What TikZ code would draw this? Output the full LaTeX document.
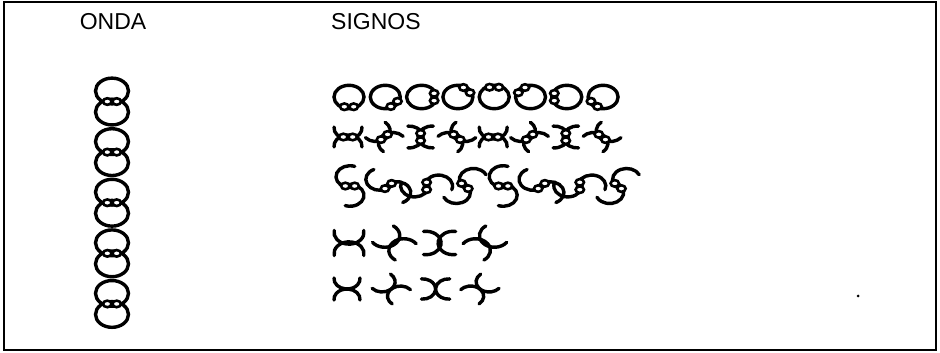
\documentclass[tikz,border=0pt]{standalone}
\usepackage{fontspec}
\setmainfont{Liberation Sans}
\tikzset{ink/.style = {line width=3.4pt, line cap=round}}
\tikzset{lbl/.style = {font=\fontsize{23}{26}\selectfont, inner sep=0}}
\tikzset{sq/.style = {yscale=0.78}}
\newcommand{\knot}{\filldraw[fill=white, line width=2.6pt] (-4.7,0) circle (4.2) (4.7,0) circle (4.2);}

\begin{document}
\begin{tikzpicture}[x=1pt, y=1pt]
      \useasboundingbox (0,0) rectangle (940,353);
      \draw[line width=1.5pt] (4,3) rectangle (936,351);
      \draw[line width=2.5pt] (4,351) -- (936,351);
      \node[lbl] (onda) at (113,331) {ONDA};
      \node[lbl, anchor=west] (signos) at (331,331) {SIGNOS};

      % onda: five linked pairs of rings
      \foreach \k in {0,...,4} {
        \begin{scope}[shift={(112,262-50.6*\k)}, sq]
          \draw[ink] (0,0) circle (16.5) (0,-27) circle (16.5);
          \begin{scope}[shift={(0,-13.5)}] \knot \end{scope}
        \end{scope}
      }

      % signos, row 1: rings
      \foreach \i in {0,...,7} {
        \begin{scope}[shift={(349+36.3*\i,256)}, sq, rotate=45*\i]
          \draw[ink] (0,0) circle (15);
          \begin{scope}[shift={(0,-12.5)}] \knot \end{scope}
        \end{scope}
      }

      % row 2: junctions with knot
      \foreach \i in {0,...,7} {
        \begin{scope}[shift={(348+36.3*\i,216)}, sq, rotate=45*\i]
          \draw[ink] (0,11.5) ++(175:14) arc (175:365:14);
          \draw[ink] (0,-11.5) ++(-5:14) arc (-5:185:14);
          \knot
        \end{scope}
      }

      % row 3: s-curves
      \foreach \i in {0,...,7} {
        \begin{scope}[shift={(350+38.3*\i,167)}, sq, rotate=45*\i]
          \draw[ink] (0,12) ++(70:14) arc (70:280:14);
          \draw[ink] (0,-12) ++(100:14) arc (100:-110:14);
          \knot
        \end{scope}
      }

      % row 4: crossings with bar
      \foreach \i in {0,...,3} {
        \begin{scope}[shift={(349+45.3*\i,110)}, sq, rotate=45*\i]
          \draw[ink] (0,13.5) ++(170:15) arc (170:370:15);
          \draw[ink] (0,-13.5) ++(-10:15) arc (-10:190:15);
        \end{scope}
      }

      % row 5: plain crossings
      \foreach \i in {0,...,3} {
        \begin{scope}[shift={(347+44.3*\i,64)}, sq, rotate=45*\i]
          \draw[ink] (0,13) ++(175:13) arc (175:365:13);
          \draw[ink] (0,-13) ++(-5:13) arc (-5:185:13);
        \end{scope}
      }

      \fill (858,57) circle (1.5);
    \end{tikzpicture}
\end{document}
